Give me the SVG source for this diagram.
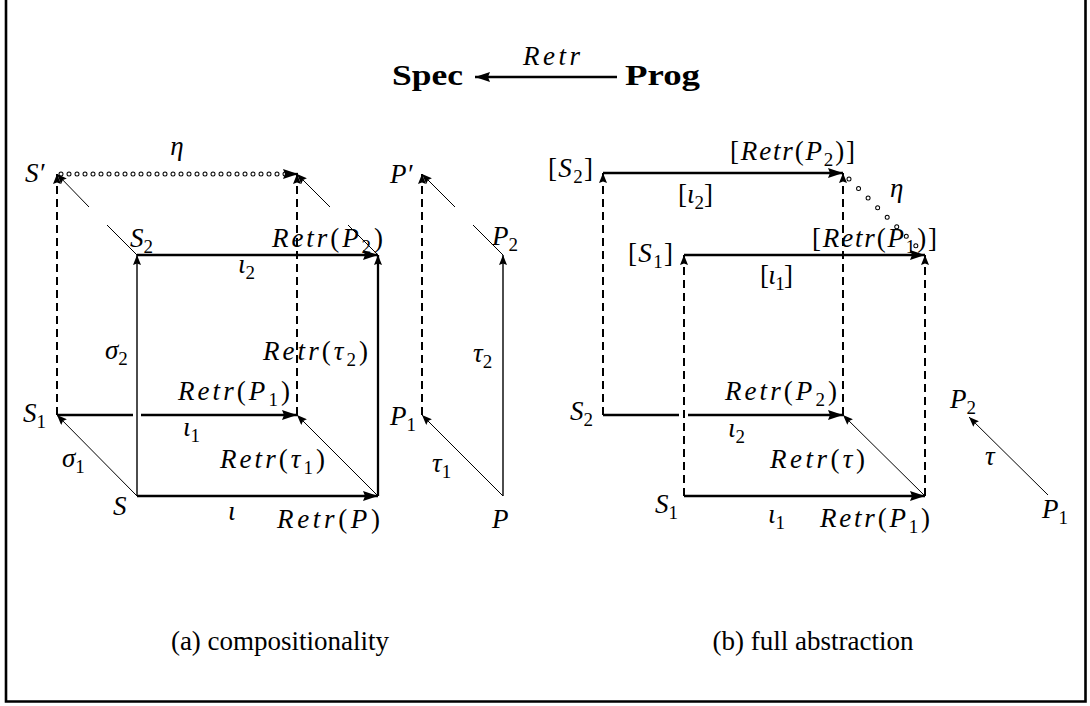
<svg xmlns="http://www.w3.org/2000/svg" width="1090" height="706" viewBox="0 0 1090 706">
<style>
.m{font-family:"Liberation Serif",serif;font-style:italic;font-size:27px;fill:#000}
.r{font-family:"Liberation Serif",serif;font-size:27px;fill:#000}
.b{font-family:"Liberation Serif",serif;font-weight:bold;font-size:29px;fill:#000}
.s{font-size:19px;font-style:normal}
.u{font-style:normal}
.thick{stroke:#000;stroke-width:2.3;fill:none}
.med{stroke:#000;stroke-width:1.4;fill:none}
.thin{stroke:#000;stroke-width:1;fill:none}
.dash{stroke:#000;stroke-width:2;fill:none;stroke-dasharray:8 5}
</style>
<defs>
<marker id="big" markerUnits="userSpaceOnUse" markerWidth="16" markerHeight="11" refX="15" refY="5" orient="auto"><path d="M0,0 L15,5 L0,10 L2,5 z" fill="#000"/></marker>
<marker id="sm" markerUnits="userSpaceOnUse" markerWidth="11" markerHeight="9" refX="10" refY="4" orient="auto"><path d="M0,0 L10,4 L0,8 L1.5,4 z" fill="#000"/></marker>
</defs>
<rect width="1090" height="706" fill="#fff"/>
<path d="M6,-5 V701.5 H1085.5 V-5" fill="none" stroke="#000" stroke-width="2.6"/>

<g id="connectors">
<line class="thick" x1="617" y1="77" x2="475" y2="77" marker-end="url(#big)"/>
<line class="dash" x1="57" y1="415" x2="57" y2="174" marker-end="url(#sm)"/>
<line class="dash" x1="297" y1="415" x2="297" y2="174" marker-end="url(#sm)"/>
<line class="dash" x1="422" y1="415" x2="422" y2="174" marker-end="url(#sm)"/>
<line x1="61" y1="174" x2="287" y2="174" stroke="#000" stroke-width="5" stroke-dasharray="0 8" stroke-linecap="round"/>
<line x1="61" y1="174" x2="287" y2="174" stroke="#fff" stroke-width="3" stroke-dasharray="0 8" stroke-linecap="round"/>
<line class="thick" x1="287" y1="174" x2="298" y2="174" marker-end="url(#big)" stroke-width="1"/>
<line class="thin" x1="137" y1="255" x2="107" y2="225"/>
<line class="thin" x1="89" y1="207" x2="57" y2="174" marker-end="url(#sm)"/>
<line class="thin" x1="378" y1="255" x2="348" y2="225"/>
<line class="thin" x1="330" y1="207" x2="297" y2="174" marker-end="url(#sm)"/>
<line class="thin" x1="503" y1="255" x2="473" y2="225"/>
<line class="thin" x1="455" y1="207" x2="422" y2="174" marker-end="url(#sm)"/>
<line class="thick" x1="137" y1="255" x2="378" y2="255" marker-end="url(#big)"/>
<line class="med" x1="137" y1="496" x2="137" y2="255" marker-end="url(#sm)"/>
<line class="thick" x1="378" y1="496" x2="378" y2="255" marker-end="url(#sm)"/>
<line class="med" x1="503" y1="496" x2="503" y2="255" marker-end="url(#sm)"/>
<line class="thick" x1="57" y1="415" x2="133" y2="415"/>
<line class="thick" x1="141" y1="415" x2="297" y2="415" marker-end="url(#big)"/>
<line class="thick" x1="137" y1="496" x2="378" y2="496" marker-end="url(#big)"/>
<line class="thin" x1="137" y1="496" x2="57" y2="415" marker-end="url(#sm)"/>
<line class="thin" x1="378" y1="496" x2="297" y2="415" marker-end="url(#sm)"/>
<line class="thin" x1="503" y1="496" x2="422" y2="415" marker-end="url(#sm)"/>
<line class="dash" x1="603" y1="415" x2="603" y2="173" marker-end="url(#sm)"/>
<line class="dash" x1="684" y1="496" x2="684" y2="255" marker-end="url(#sm)"/>
<line class="dash" x1="843" y1="415" x2="843" y2="173" marker-end="url(#sm)"/>
<line class="dash" x1="925" y1="496" x2="925" y2="255" marker-end="url(#sm)"/>
<line class="thick" x1="603" y1="173" x2="843" y2="173" marker-end="url(#big)"/>
<line class="thick" x1="684" y1="255" x2="925" y2="255" marker-end="url(#big)"/>
<line x1="849" y1="179" x2="922" y2="252" stroke="#000" stroke-width="5" stroke-dasharray="0 13.5" stroke-linecap="round"/>
<line x1="849" y1="179" x2="922" y2="252" stroke="#fff" stroke-width="3" stroke-dasharray="0 13.5" stroke-linecap="round"/>
<line class="thick" x1="603" y1="415" x2="679" y2="415"/>
<line class="thick" x1="688" y1="415" x2="843" y2="415" marker-end="url(#big)"/>
<line class="thick" x1="684" y1="496" x2="925" y2="496" marker-end="url(#big)"/>
<line class="thin" x1="925" y1="496" x2="843" y2="415" marker-end="url(#sm)"/>
<line class="thin" x1="1048" y1="495" x2="969" y2="417" marker-end="url(#sm)"/>
</g>

<g id="header">
<text class="b" x="392" y="85" textLength="71" lengthAdjust="spacingAndGlyphs">Spec</text>
<text class="b" x="625" y="85" textLength="75" lengthAdjust="spacingAndGlyphs">Prog</text>
<text class="m" x="523" y="65" textLength="57">Retr</text>
</g>

<g id="left-nodes">
<g id="n-Sp"><text class="m" x="25" y="182">S′</text></g>
<g id="l-eta1"><text class="m" x="177" y="155" text-anchor="middle">η</text></g>
<g id="n-S2"><text class="m" x="130" y="247">S<tspan class="s" dy="6">2</tspan></text></g>
<g id="n-RP2"><text class="m" x="272" y="247" textLength="111">Retr<tspan class="u">(</tspan>P<tspan class="s" dy="6">2</tspan><tspan class="u" dy="-6">)</tspan></text></g>
<g id="l-i2"><text class="m" x="238" y="273">ι<tspan class="s" dy="6">2</tspan></text></g>
<g id="l-s2"><text class="m" x="105" y="359">σ<tspan class="s" dy="6">2</tspan></text></g>
<g id="l-Rt2"><text class="m" x="263" y="360" textLength="105">Retr<tspan class="u">(</tspan>τ<tspan class="s" dy="6">2</tspan><tspan class="u" dy="-6">)</tspan></text></g>
<g id="n-RP1"><text class="m" x="178" y="400" textLength="112">Retr<tspan class="u">(</tspan>P<tspan class="s" dy="6">1</tspan><tspan class="u" dy="-6">)</tspan></text></g>
<g id="n-S1"><text class="m" x="23" y="422">S<tspan class="s" dy="6">1</tspan></text></g>
<g id="l-i1"><text class="m" x="183" y="436">ι<tspan class="s" dy="6">1</tspan></text></g>
<g id="l-s1"><text class="m" x="62" y="467">σ<tspan class="s" dy="6">1</tspan></text></g>
<g id="l-Rt1"><text class="m" x="220" y="468" textLength="105">Retr<tspan class="u">(</tspan>τ<tspan class="s" dy="6">1</tspan><tspan class="u" dy="-6">)</tspan></text></g>
<g id="n-S"><text class="m" x="113" y="515">S</text></g>
<g id="l-i"><text class="m" x="228" y="520">ι</text></g>
<g id="n-RP"><text class="m" x="277" y="528" textLength="103">Retr<tspan class="u">(</tspan>P<tspan class="u">)</tspan></text></g>
<g id="n-Pp"><text class="m" x="390" y="183">P′</text></g>
<g id="n-P2"><text class="m" x="492" y="245">P<tspan class="s" dy="6">2</tspan></text></g>
<g id="l-t2"><text class="m" x="473" y="362">τ<tspan class="s" dy="6">2</tspan></text></g>
<g id="n-P1"><text class="m" x="390" y="425">P<tspan class="s" dy="6">1</tspan></text></g>
<g id="l-t1"><text class="m" x="432" y="472">τ<tspan class="s" dy="6">1</tspan></text></g>
<g id="n-P"><text class="m" x="492" y="528">P</text></g>
</g>

<g id="right-nodes">
<g id="n-bS2"><text class="m" x="548" y="177" textLength="45"><tspan class="u">[</tspan>S<tspan class="s" dy="6">2</tspan><tspan class="u" dy="-6">]</tspan></text></g>
<g id="n-bRP2"><text class="m" x="730" y="160" textLength="125"><tspan class="u">[</tspan>Retr<tspan class="u">(</tspan>P<tspan class="s" dy="6">2</tspan><tspan class="u" dy="-6">)]</tspan></text></g>
<g id="l-bi2"><text class="m" x="678" y="203" textLength="35"><tspan class="u">[</tspan>ι<tspan class="s" dy="6">2</tspan><tspan class="u" dy="-6">]</tspan></text></g>
<g id="l-eta2"><text class="m" x="890" y="197">η</text></g>
<g id="n-bS1"><text class="m" x="628" y="262" textLength="45"><tspan class="u">[</tspan>S<tspan class="s" dy="6">1</tspan><tspan class="u" dy="-6">]</tspan></text></g>
<g id="n-bRP1"><text class="m" x="812" y="247" textLength="125"><tspan class="u">[</tspan>Retr<tspan class="u">(</tspan>P<tspan class="s" dy="6">1</tspan><tspan class="u" dy="-6">)]</tspan></text></g>
<g id="l-bi1"><text class="m" x="760" y="284" textLength="33"><tspan class="u">[</tspan>ι<tspan class="s" dy="6">1</tspan><tspan class="u" dy="-6">]</tspan></text></g>
<g id="n-RP2b"><text class="m" x="725" y="400" textLength="112">Retr<tspan class="u">(</tspan>P<tspan class="s" dy="6">2</tspan><tspan class="u" dy="-6">)</tspan></text></g>
<g id="n-S2b"><text class="m" x="570" y="420">S<tspan class="s" dy="6">2</tspan></text></g>
<g id="l-i2b"><text class="m" x="728" y="437">ι<tspan class="s" dy="6">2</tspan></text></g>
<g id="l-Rt"><text class="m" x="770" y="468" textLength="95">Retr<tspan class="u">(</tspan>τ<tspan class="u">)</tspan></text></g>
<g id="n-S1b"><text class="m" x="655" y="513">S<tspan class="s" dy="6">1</tspan></text></g>
<g id="l-i1b"><text class="m" x="768" y="523">ι<tspan class="s" dy="6">1</tspan></text></g>
<g id="n-RP1b"><text class="m" x="820" y="527" textLength="110">Retr<tspan class="u">(</tspan>P<tspan class="s" dy="6">1</tspan><tspan class="u" dy="-6">)</tspan></text></g>
<g id="n-P2b"><text class="m" x="950" y="408">P<tspan class="s" dy="6">2</tspan></text></g>
<g id="l-t"><text class="m" x="985" y="465">τ</text></g>
<g id="n-P1b"><text class="m" x="1042" y="518">P<tspan class="s" dy="6">1</tspan></text></g>
</g>

<g id="captions">
<text class="r" x="280" y="650" text-anchor="middle">(a) compositionality</text>
<text class="r" x="813" y="650" text-anchor="middle">(b) full abstraction</text>
</g>
</svg>
